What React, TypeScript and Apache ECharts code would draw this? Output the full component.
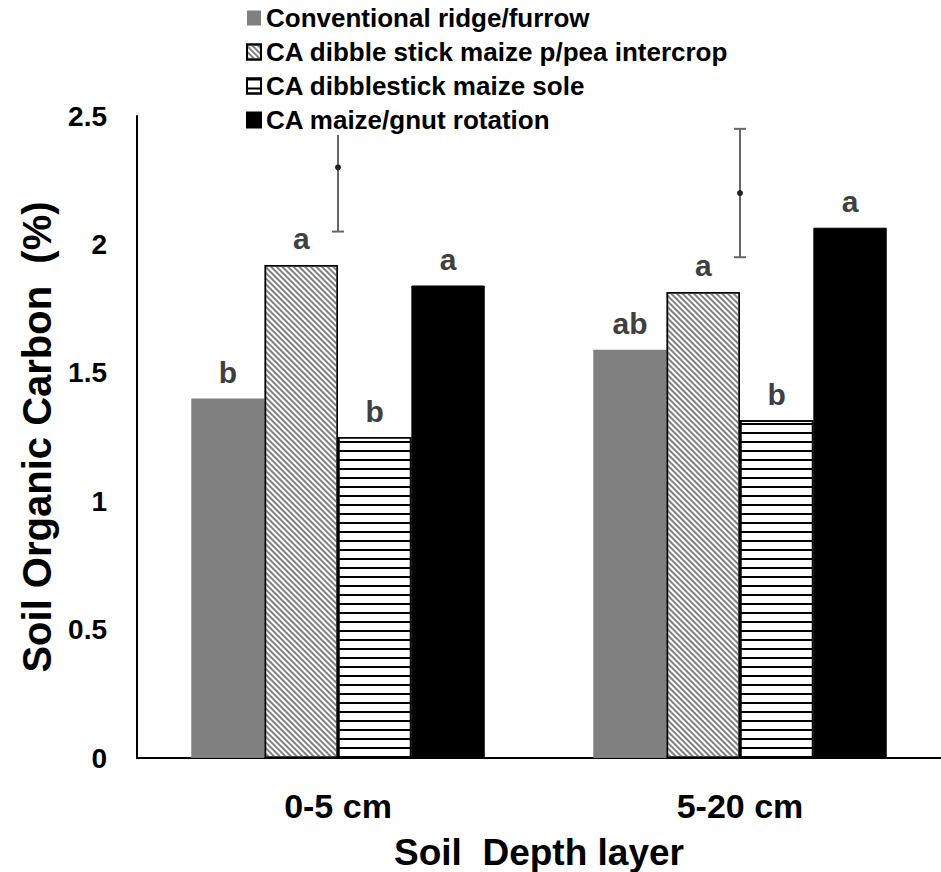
import React, { useEffect, useRef } from "react";
import * as echarts from "echarts";

const categories = ["0-5 cm", "5-20 cm"];
const seriesNames = [
  "Conventional ridge/furrow",
  "CA dibble stick maize p/pea intercrop",
  "CA dibblestick maize sole",
  "CA maize/gnut rotation",
];
const conventional = [1.4, 1.59];
const intercrop = [1.92, 1.815];
const sole = [1.25, 1.315];
const rotation = [1.84, 2.065];
const lettersConventional = ["b", "ab"];
const lettersIntercrop = ["a", "a"];
const lettersSole = ["b", "b"];
const lettersRotation = ["a", "a"];
const errMean = [2.3, 2.2];
const errHalf = [0.25, 0.25];
const yTicks = { min: 0, max: 2.5, interval: 0.5 };

const FONT = "'Liberation Sans', Arial, Helvetica, sans-serif";

export default function App() {
  const ref = useRef<HTMLDivElement>(null);
  useEffect(() => {
    if (!ref.current) return;
    const chart = echarts.init(ref.current, undefined, { renderer: "svg" });
    const letterLabel = (letters: string[]) => ({
      show: true,
      position: "top",
      distance: 11,
      formatter: (p: any) => letters[p.dataIndex],
      color: "#404040",
      fontFamily: FONT,
      fontWeight: "bold",
      fontSize: 30,
    });
    const option: any = {
      animation: false,
      backgroundColor: "#fff",
      textStyle: { fontFamily: FONT },
      grid: {
        left: 137,
        right: 0,
        top: 116,
        bottom: 114,
        containLabel: false,
        outerBoundsMode: "none",
      },
      legend: {
        data: seriesNames,
        orient: "vertical",
        left: 242,
        top: 3,
        itemWidth: 14,
        itemHeight: 15,
        itemGap: 8,
        icon: "rect",
        backgroundColor: "#fff",
        padding: [2, 4, 2, 4],
        z: 10,
        textStyle: { fontFamily: FONT, fontWeight: "bold", fontSize: 26, color: "#000" },
      },
      xAxis: {
        type: "category",
        data: categories,
        axisLine: { lineStyle: { color: "#000", width: 2 } },
        axisTick: { show: false },
        axisLabel: {
          margin: 31,
          color: "#000",
          fontFamily: FONT,
          fontWeight: "bold",
          fontSize: 34,
        },
        name: "Soil  Depth layer",
        nameLocation: "middle",
        nameGap: 76,
        nameTextStyle: { color: "#000", fontFamily: FONT, fontWeight: "bold", fontSize: 37 },
      },
      yAxis: {
        type: "value",
        min: yTicks.min,
        max: yTicks.max,
        interval: yTicks.interval,
        axisLine: { show: true, lineStyle: { color: "#000", width: 2 } },
        axisTick: { show: false },
        splitLine: { show: false },
        axisLabel: {
          margin: 30,
          color: "#000",
          fontFamily: FONT,
          fontWeight: "bold",
          fontSize: 28,
        },
        name: "Soil Organic Carbon  (%)",
        nameLocation: "middle",
        nameGap: 72,
        nameTextStyle: { color: "#000", fontFamily: FONT, fontWeight: "bold", fontSize: 40 },
      },
      series: [
        {
          name: seriesNames[0],
          type: "bar",
          data: conventional,
          barGap: "0%",
          barCategoryGap: "27%",
          itemStyle: { color: "#808080" },
          label: letterLabel(lettersConventional),
        },
        {
          name: seriesNames[1],
          type: "bar",
          data: intercrop,
          itemStyle: {
            color: "#fff",
            borderColor: "#000",
            borderWidth: 1.5,
            decal: {
              symbol: "rect",
              symbolSize: 1,
              dashArrayX: [1, 0],
              dashArrayY: [1.8, 1.8],
              rotation: Math.PI / 4,
              color: "#808080",
            },
          },
          label: letterLabel(lettersIntercrop),
        },
        {
          name: seriesNames[2],
          type: "bar",
          data: sole,
          itemStyle: {
            color: "#fff",
            borderColor: "#000",
            borderWidth: 1.5,
            decal: {
              symbol: "rect",
              symbolSize: 1,
              dashArrayX: [1, 0],
              dashArrayY: [2, 6.3],
              rotation: 0,
              color: "#000",
            },
          },
          label: letterLabel(lettersSole),
        },
        {
          name: seriesNames[3],
          type: "bar",
          data: rotation,
          itemStyle: { color: "#000", borderColor: "#000", borderWidth: 1 },
          label: letterLabel(lettersRotation),
        },
        {
          name: "error",
          type: "custom",
          clip: false,
          z: 5,
          data: errMean.map((m, i) => [i, m, errHalf[i]]),
          encode: { x: 0, y: 1 },
          renderItem: (params: any, api: any) => {
            const idx = api.value(0);
            const m = api.value(1);
            const e = api.value(2);
            const c = api.coord([idx, m]);
            const t = api.coord([idx, m + e]);
            const b = api.coord([idx, m - e]);
            const stroke = { stroke: "#666", lineWidth: 2 };
            return {
              type: "group",
              children: [
                { type: "line", shape: { x1: t[0], y1: t[1], x2: b[0], y2: b[1] }, style: stroke },
                { type: "line", shape: { x1: t[0] - 6, y1: t[1], x2: t[0] + 6, y2: t[1] }, style: stroke },
                { type: "line", shape: { x1: b[0] - 6, y1: b[1], x2: b[0] + 6, y2: b[1] }, style: stroke },
                { type: "circle", shape: { cx: c[0], cy: c[1], r: 3 }, style: { fill: "#222" } },
              ],
            };
          },
        },
      ],
    };
    chart.setOption(option);
    return () => chart.dispose();
  }, []);
  return <div ref={ref} style={{ width: 941, height: 872, position: "absolute", left: 0, top: 0 }} />;
}
